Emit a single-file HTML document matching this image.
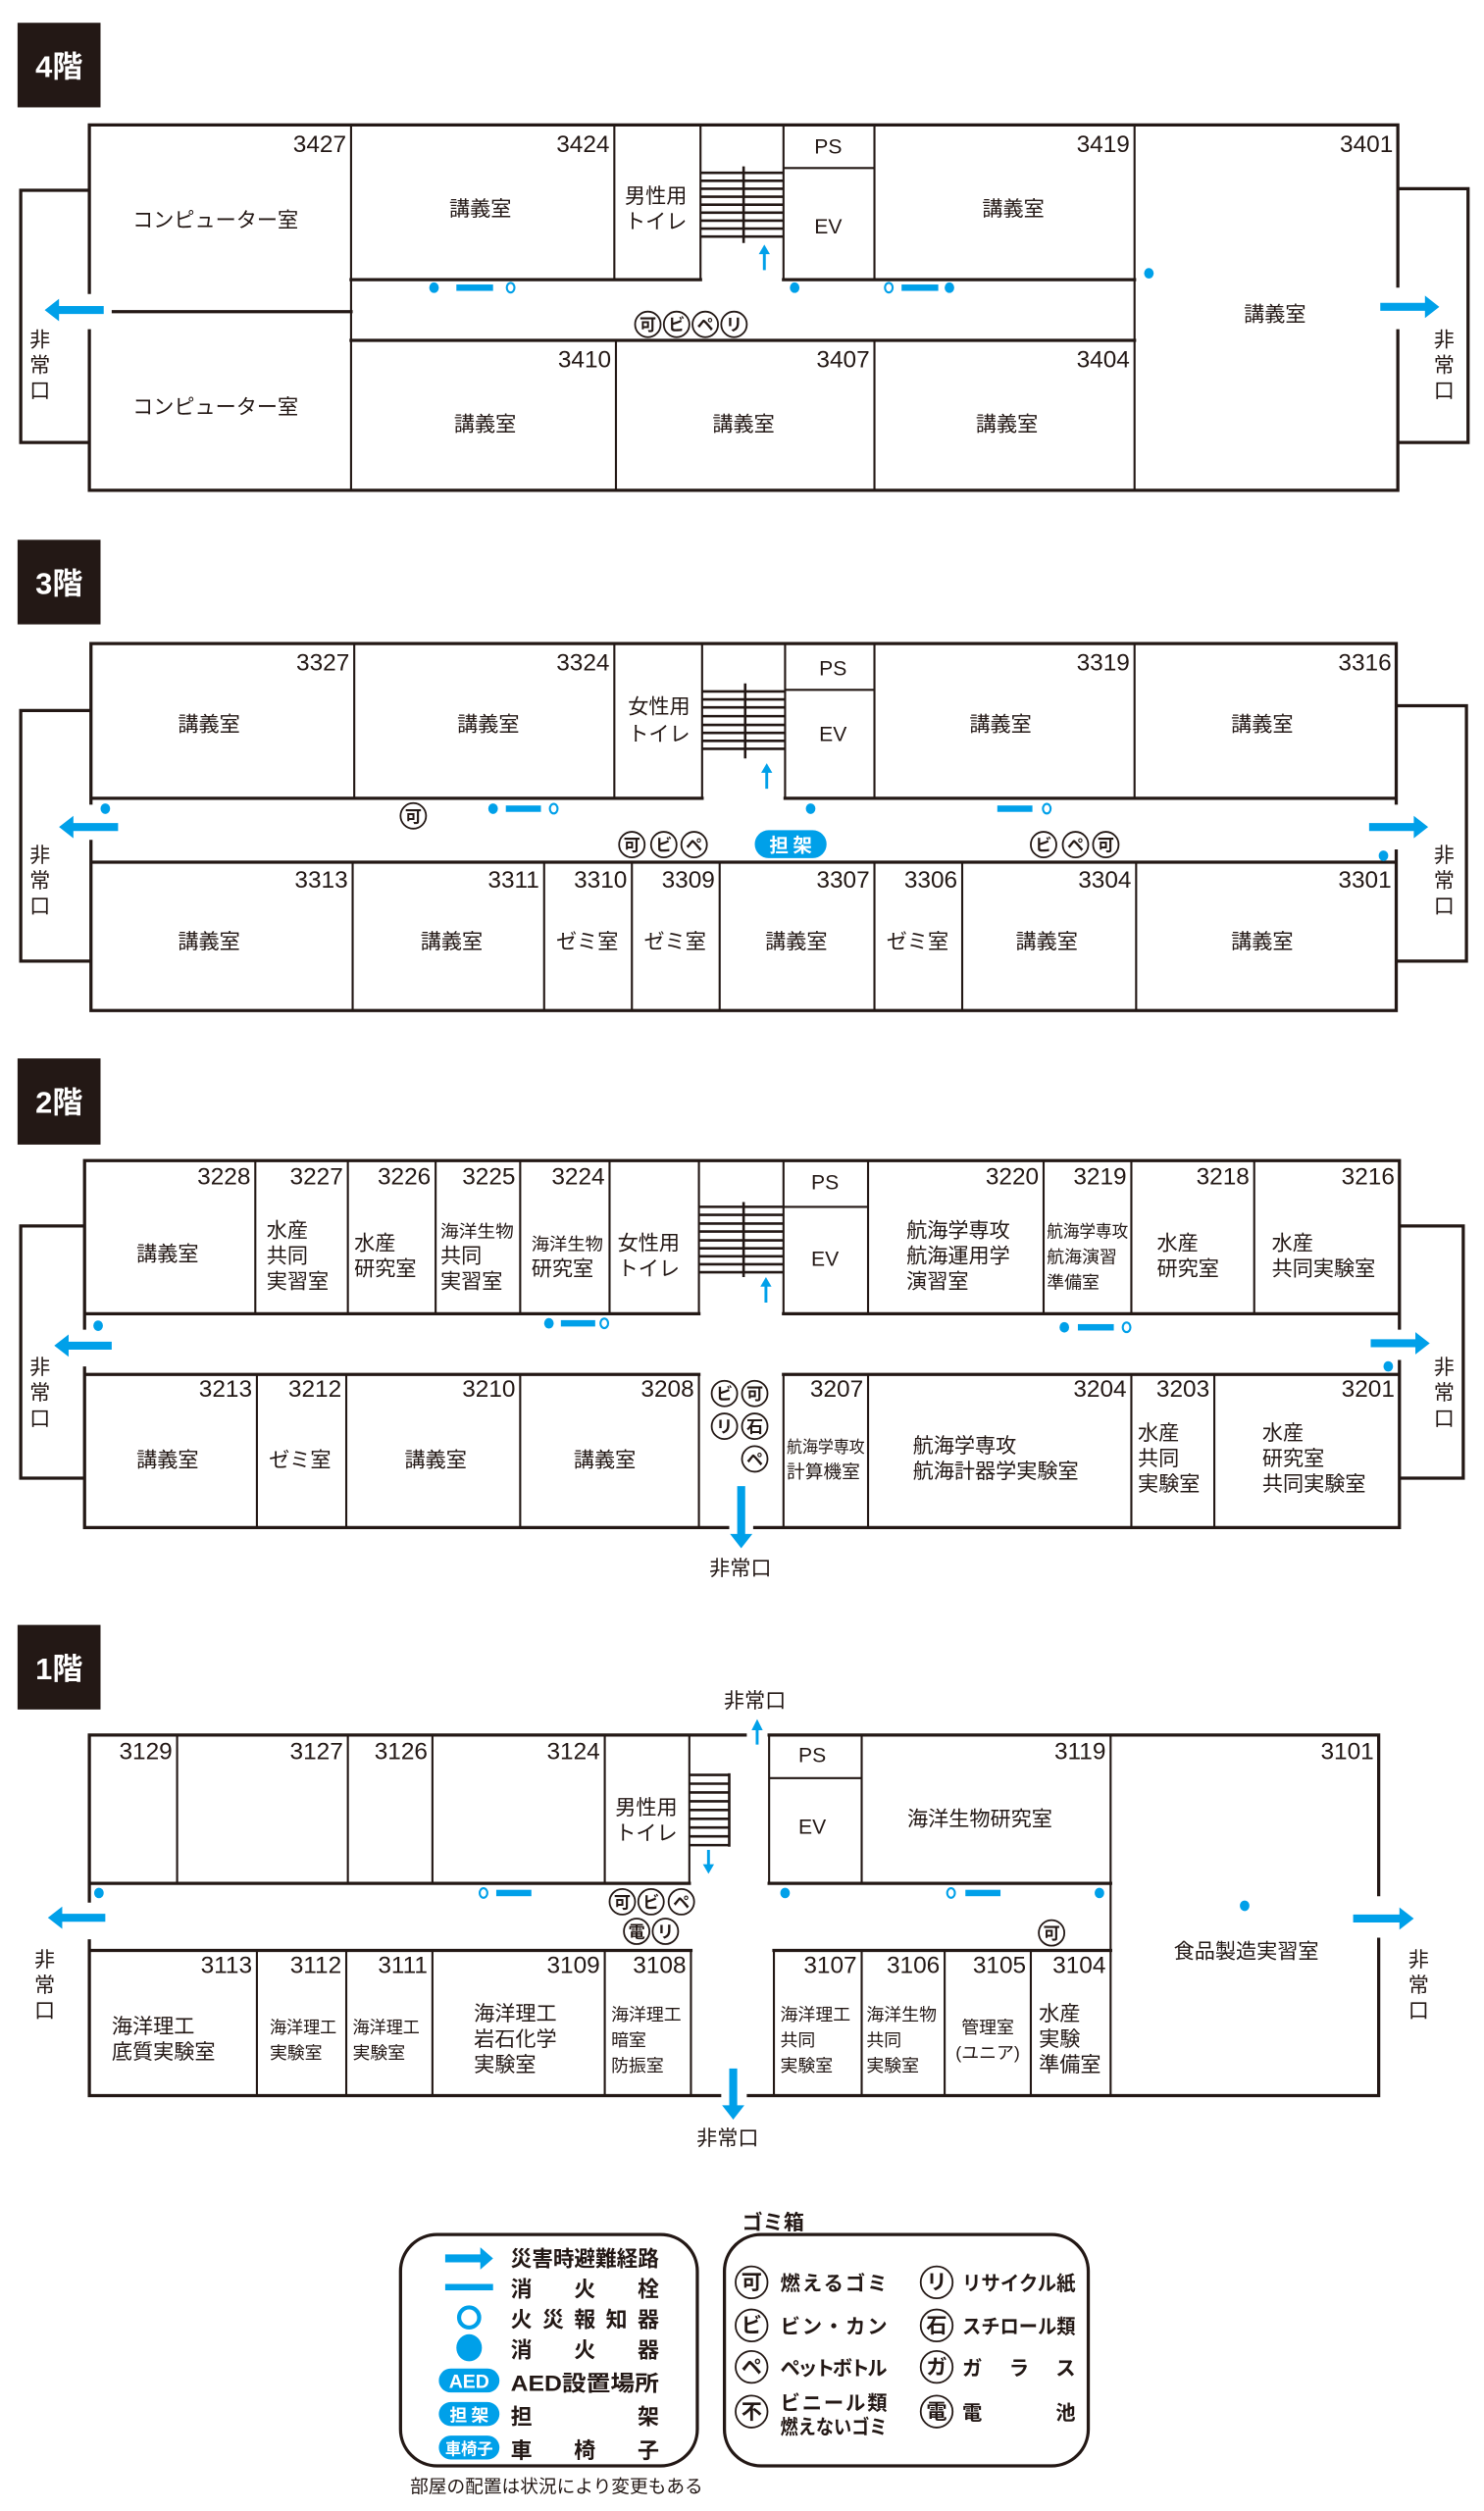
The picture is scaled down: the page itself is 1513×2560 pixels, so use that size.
<!DOCTYPE html>
<html><head><meta charset="utf-8"><style>
html,body{margin:0;padding:0;background:#fff}
svg{display:block}
.w{stroke:#231815;stroke-width:2;fill:none;stroke-linecap:square}
.i{stroke:#231815;stroke-width:1.3;fill:none}
.n{font-family:"Liberation Sans",sans-serif;font-size:15px;fill:#231815;text-anchor:end}
.r{font-family:"Liberation Sans","Noto Sans CJK JP",sans-serif;font-size:13px;fill:#231815;text-anchor:middle}
.l{font-family:"Liberation Sans","Noto Sans CJK JP",sans-serif;font-size:13px;fill:#231815}
.s{font-size:11px}
.b{fill:#00a0e9}
.rg{fill:none;stroke:#00a0e9;stroke-width:1.3}
.c{fill:#fff;stroke:#231815;stroke-width:1.1}
.ct{font-family:"Noto Sans CJK JP",sans-serif;font-size:10.5px;font-weight:bold;fill:#231815;text-anchor:middle}
.lab{font-family:"Liberation Sans","Noto Sans CJK JP",sans-serif;font-size:19px;font-weight:bold;fill:#fff;text-anchor:middle}
.lg{font-family:"Liberation Sans","Noto Sans CJK JP",sans-serif;font-size:13.5px;font-weight:bold;fill:#231815}
.st{stroke:#231815;stroke-width:1.6}
.ba{stroke:#00a0e9;stroke-width:1.8;fill:none}
</style></head><body>
<svg width="1513" height="2560" viewBox="0 0 930 1573" xmlns="http://www.w3.org/2000/svg">

<!-- ===== 4F ===== -->
<rect x="11" y="14" width="52" height="53" fill="#231815"/><text class="lab" x="37" y="48">4階</text>
<path class="w" d="M56 78H876M56 307H876M56 78V183M56 207V307M876 78V179M876 207V307M56 119H13V277H56M876 118H920V277H876M71 195H220M220 175H439M491 175H711M220 213H711"/>
<path class="i" d="M220 78V307M385 78V175M439 78V175M491 78V175M548 78V175M711 78V307M491 105H548M386 213V307M548 213V307"/>
<g class="st"><path d="M439 108H491M439 113H491M439 118H491M439 123H491M439 128H491M439 133H491M439 138H491M439 143H491M439 148H491M466 104V152"/></g>
<path class="ba" d="M479 169V157"/><path class="b" d="M475.5 159L479 153L482.5 159Z"/>
<text class="n" x="217" y="95">3427</text><text class="n" x="382" y="95">3424</text><text class="n" x="708" y="95">3419</text><text class="n" x="873" y="95">3401</text>
<text class="n" x="383" y="230">3410</text><text class="n" x="545" y="230">3407</text><text class="n" x="708" y="230">3404</text>
<text class="r" x="135" y="142">コンピューター室</text><text class="r" x="135" y="259">コンピューター室</text>
<text class="r" x="301" y="135">講義室</text><text class="r" x="635" y="135">講義室</text><text class="r" x="799" y="201">講義室</text>
<text class="r" x="304" y="270">講義室</text><text class="r" x="466" y="270">講義室</text><text class="r" x="631" y="270">講義室</text>
<text class="r" x="411" y="127">男性用</text><text class="r" x="411" y="143">トイレ</text>
<text class="r" x="519" y="96">PS</text><text class="r" x="519" y="146">EV</text>
<ellipse class="b" cx="272" cy="180" rx="3" ry="3.3"/><rect class="b" x="286" y="178" width="23" height="4"/><ellipse class="rg" cx="320" cy="180" rx="2.4" ry="3"/>
<ellipse class="b" cx="498" cy="180" rx="3" ry="3.3"/><ellipse class="rg" cx="557" cy="180" rx="2.4" ry="3"/><rect class="b" x="565" y="178" width="23" height="4"/><ellipse class="b" cx="595" cy="180" rx="3" ry="3.3"/>
<ellipse class="b" cx="720" cy="171" rx="3" ry="3.3"/>
<g><circle class="c" cx="406" cy="203" r="8"/><text class="ct" x="406" y="207">可</text><circle class="c" cx="424" cy="203" r="8"/><text class="ct" x="424" y="207">ビ</text><circle class="c" cx="442" cy="203" r="8"/><text class="ct" x="442" y="207">ペ</text><circle class="c" cx="460" cy="203" r="8"/><text class="ct" x="460" y="207">リ</text></g>
<path class="b" d="M65 191.5H37V187L28 194L37 201V196.5H65Z"/>
<path class="b" d="M865 189.5H893V185L902 192L893 199V194.5H865Z"/>
<text class="r" x="25" y="217">非</text><text class="r" x="25" y="233">常</text><text class="r" x="25" y="249">口</text>
<text class="r" x="905" y="217">非</text><text class="r" x="905" y="233">常</text><text class="r" x="905" y="249">口</text>

<!-- ===== 3F ===== -->
<rect x="11" y="338" width="52" height="53" fill="#231815"/><text class="lab" x="37" y="372">3階</text>
<path class="w" d="M57 403H875M57 633H875M57 403V503M57 527V633M57 445H13V602H57M875 403V503M875 533V633M875 442H919V602H875M57 500H440M492 500H875M57 540H875"/>
<path class="i" d="M222 403V500M385 403V500M440 403V500M492 403V500M548 403V500M711 403V500M492 432H548M221 540V633M341 540V633M396 540V633M451 540V633M548 540V633M603 540V633M712 540V633"/>
<g class="st"><path d="M440 433H492M440 438H492M440 443H492M440 448.5H492M440 454H492M440 459H492M440 464H492M440 469H492M467 428V475"/></g>
<path class="ba" d="M480.5 494V482"/><path class="b" d="M477 484L480.5 478L484 484Z"/>
<text class="n" x="219" y="420">3327</text><text class="n" x="382" y="420">3324</text><text class="n" x="708" y="420">3319</text><text class="n" x="872" y="420">3316</text>
<text class="n" x="218" y="556">3313</text><text class="n" x="338" y="556">3311</text><text class="n" x="393" y="556">3310</text><text class="n" x="448" y="556">3309</text><text class="n" x="545" y="556">3307</text><text class="n" x="600" y="556">3306</text><text class="n" x="709" y="556">3304</text><text class="n" x="872" y="556">3301</text>
<text class="r" x="131" y="458">講義室</text><text class="r" x="306" y="458">講義室</text><text class="r" x="627" y="458">講義室</text><text class="r" x="791" y="458">講義室</text>
<text class="r" x="413" y="447">女性用</text><text class="r" x="413" y="464">トイレ</text><text class="r" x="522" y="423">PS</text><text class="r" x="522" y="464">EV</text>
<text class="r" x="131" y="594">講義室</text><text class="r" x="283" y="594">講義室</text><text class="r" x="368" y="594">ゼミ室</text><text class="r" x="423" y="594">ゼミ室</text><text class="r" x="499" y="594">講義室</text><text class="r" x="575" y="594">ゼミ室</text><text class="r" x="656" y="594">講義室</text><text class="r" x="791" y="594">講義室</text>
<ellipse class="b" cx="66" cy="506.5" rx="3" ry="3.3"/>
<circle class="c" cx="259" cy="511" r="8"/><text class="ct" x="259" y="515">可</text>
<ellipse class="b" cx="309" cy="506.5" rx="3" ry="3.3"/><rect class="b" x="317" y="504.5" width="22" height="4"/><ellipse class="rg" cx="347" cy="506.5" rx="2.4" ry="3"/>
<ellipse class="b" cx="508" cy="506.5" rx="3" ry="3.3"/><rect class="b" x="625" y="504.5" width="22" height="4"/><ellipse class="rg" cx="656" cy="506.5" rx="2.4" ry="3"/>
<circle class="c" cx="396" cy="529" r="8"/><text class="ct" x="396" y="533">可</text><circle class="c" cx="416" cy="529" r="8"/><text class="ct" x="416" y="533">ビ</text><circle class="c" cx="435" cy="529" r="8"/><text class="ct" x="435" y="533">ペ</text>
<rect class="b" x="473" y="520" width="45" height="17.5" rx="8.7"/><text x="495.5" y="533.5" text-anchor="middle" font-family="Noto Sans CJK JP,sans-serif" font-size="12" font-weight="bold" fill="#fff">担 架</text>
<circle class="c" cx="654" cy="529" r="8"/><text class="ct" x="654" y="533">ビ</text><circle class="c" cx="674" cy="529" r="8"/><text class="ct" x="674" y="533">ペ</text><circle class="c" cx="693" cy="529" r="8"/><text class="ct" x="693" y="533">可</text>
<ellipse class="b" cx="867" cy="536" rx="3" ry="3.3"/>
<path class="b" d="M74 515.5H46V511L37 518L46 525V520.5H74Z"/>
<path class="b" d="M858 515.5H886V511L895 518L886 525V520.5H858Z"/>
<text class="r" x="25" y="540">非</text><text class="r" x="25" y="556">常</text><text class="r" x="25" y="572">口</text>
<text class="r" x="905" y="540">非</text><text class="r" x="905" y="556">常</text><text class="r" x="905" y="572">口</text>

<!-- ===== 2F ===== -->
<rect x="11" y="663" width="52" height="54" fill="#231815"/><text class="lab" x="37" y="697">2階</text>
<path class="w" d="M53 727H877M53 957H456M473 957H877M53 727V832M53 857V957M53 768H13V926H53M877 727V832M877 853V957M877 768H917V926H877M53 823H438M491 823H877M53 861H438M491 861H877"/>
<path class="i" d="M160 727V823M218 727V823M273 727V823M326 727V823M382 727V823M438 727V823M491 727V823M544 727V823M654 727V823M709 727V823M786 727V823M491 756H544M161 861V957M217 861V957M326 861V957M438 861V957M491 861V957M544 861V957M709 861V957M761 861V957"/>
<g class="st"><path d="M438 756H491M438 761H491M438 766.5H491M438 771.5H491M438 777H491M438 782H491M438 787H491M438 792H491M438 797H491M466 753V800"/></g>
<path class="ba" d="M480 816V804"/><path class="b" d="M476.5 806L480 800L483.5 806Z"/>
<text class="n" x="157" y="742">3228</text><text class="n" x="215" y="742">3227</text><text class="n" x="270" y="742">3226</text><text class="n" x="323" y="742">3225</text><text class="n" x="379" y="742">3224</text><text class="n" x="651" y="742">3220</text><text class="n" x="706" y="742">3219</text><text class="n" x="783" y="742">3218</text><text class="n" x="874" y="742">3216</text>
<text class="n" x="158" y="875">3213</text><text class="n" x="214" y="875">3212</text><text class="n" x="323" y="875">3210</text><text class="n" x="435" y="875">3208</text><text class="n" x="541" y="875">3207</text><text class="n" x="706" y="875">3204</text><text class="n" x="758" y="875">3203</text><text class="n" x="874" y="875">3201</text>
<text class="r" x="517" y="745">PS</text><text class="r" x="517" y="793">EV</text>
<text class="r" x="105" y="790">講義室</text>
<text class="l" x="167" y="775">水産</text><text class="l" x="167" y="791">共同</text><text class="l" x="167" y="807">実習室</text>
<text class="l" x="222" y="783">水産</text><text class="l" x="222" y="799">研究室</text>
<text class="l" x="276" y="775" style="font-size:11px" textLength="46" lengthAdjust="spacingAndGlyphs">海洋生物</text><text class="l" x="276" y="791">共同</text><text class="l" x="276" y="807">実習室</text>
<text class="l" x="333" y="783" style="font-size:11px" textLength="45" lengthAdjust="spacingAndGlyphs">海洋生物</text><text class="l" x="333" y="799">研究室</text>
<text class="l" x="387" y="783">女性用</text><text class="l" x="387" y="799">トイレ</text>
<text class="l" x="568" y="775">航海学専攻</text><text class="l" x="568" y="791">航海運用学</text><text class="l" x="568" y="807">演習室</text>
<text class="l" x="656" y="775" style="font-size:11px" textLength="51" lengthAdjust="spacingAndGlyphs">航海学専攻</text><text class="l s" x="656" y="791">航海演習</text><text class="l s" x="656" y="807">準備室</text>
<text class="l" x="725" y="783">水産</text><text class="l" x="725" y="799">研究室</text>
<text class="l" x="797" y="783">水産</text><text class="l" x="797" y="799">共同実験室</text>
<text class="r" x="105" y="919">講義室</text><text class="r" x="188" y="919">ゼミ室</text><text class="r" x="273" y="919">講義室</text><text class="r" x="379" y="919">講義室</text>
<text class="l" x="493" y="910" style="font-size:10.5px" textLength="49" lengthAdjust="spacingAndGlyphs">航海学専攻</text><text class="l" x="493" y="926" style="font-size:11.5px">計算機室</text>
<text class="l" x="572" y="910">航海学専攻</text><text class="l" x="572" y="926">航海計器学実験室</text>
<text class="l" x="713" y="902">水産</text><text class="l" x="713" y="918">共同</text><text class="l" x="713" y="934">実験室</text>
<text class="l" x="791" y="902">水産</text><text class="l" x="791" y="918">研究室</text><text class="l" x="791" y="934">共同実験室</text>
<ellipse class="b" cx="61.5" cy="830.5" rx="3" ry="3.3"/>
<ellipse class="b" cx="344" cy="829" rx="3" ry="3.3"/><rect class="b" x="351.5" y="827" width="21.5" height="4"/><ellipse class="rg" cx="378.7" cy="829" rx="2.4" ry="3"/>
<ellipse class="b" cx="667" cy="831.5" rx="3" ry="3.3"/><rect class="b" x="675.5" y="829.5" width="22.5" height="4"/><ellipse class="rg" cx="706" cy="831.5" rx="2.4" ry="3"/>
<ellipse class="b" cx="870" cy="856" rx="3" ry="3.3"/>
<circle class="c" cx="454" cy="873" r="8"/><text class="ct" x="454" y="877">ビ</text><circle class="c" cx="473" cy="873" r="8"/><text class="ct" x="473" y="877">可</text>
<circle class="c" cx="454" cy="893.5" r="8"/><text class="ct" x="454" y="897.5">リ</text><circle class="c" cx="473" cy="893.5" r="8"/><text class="ct" x="473" y="897.5">石</text>
<circle class="c" cx="473" cy="914" r="8"/><text class="ct" x="473" y="918">ペ</text>
<path class="b" d="M70 840.5H43V836L34 843L43 850V845.5H70Z"/>
<path class="b" d="M859 839H887V834.5L896 841.5L887 848.5V844H859Z"/>
<path class="b" d="M462 931H467V961H471.5L464.5 970L457.5 961H462Z"/>
<text class="r" x="464" y="987">非常口</text>
<text class="r" x="25" y="861">非</text><text class="r" x="25" y="877">常</text><text class="r" x="25" y="893">口</text>
<text class="r" x="905" y="861">非</text><text class="r" x="905" y="877">常</text><text class="r" x="905" y="893">口</text>

<!-- ===== 1F ===== -->
<rect x="11" y="1018" width="52" height="53" fill="#231815"/><text class="lab" x="37" y="1052">1階</text>
<path class="w" d="M56 1087H467M482 1087H864M56 1313H451M469 1313H864M56 1087V1191M56 1216V1313M864 1087V1187M864 1215V1313M56 1180H432M482 1180H696M56 1222H433M485 1222H696"/>
<path class="i" d="M111 1087V1180M218 1087V1180M271 1087V1180M379 1087V1180M432 1087V1180M482 1087V1180M540 1087V1180M482 1114H540M696 1087V1313M161 1222V1313M217 1222V1313M271 1222V1313M379 1222V1313M433 1222V1313M485 1222V1313M540 1222V1313M592 1222V1313M646 1222V1313"/>
<g class="st"><path d="M432 1112H457M432 1117.5H457M432 1123H457M432 1128.5H457M432 1134H457M432 1139.5H457M432 1145H457M432 1150.5H457M432 1156H457M457 1111V1157"/></g>
<path class="ba" d="M444 1159V1170"/><path class="b" d="M440.5 1168L444 1174L447.5 1168Z"/>
<path class="ba" d="M474.5 1093V1082"/><path class="b" d="M471 1084L474.5 1077L478 1084Z"/>
<text class="r" x="473" y="1070">非常口</text>
<text class="n" x="108" y="1102">3129</text><text class="n" x="215" y="1102">3127</text><text class="n" x="268" y="1102">3126</text><text class="n" x="376" y="1102">3124</text><text class="n" x="693" y="1102">3119</text><text class="n" x="861" y="1102">3101</text>
<text class="n" x="158" y="1236">3113</text><text class="n" x="214" y="1236">3112</text><text class="n" x="268" y="1236">3111</text><text class="n" x="376" y="1236">3109</text><text class="n" x="430" y="1236">3108</text><text class="n" x="537" y="1236">3107</text><text class="n" x="589" y="1236">3106</text><text class="n" x="643" y="1236">3105</text><text class="n" x="693" y="1236">3104</text>
<text class="r" x="509" y="1104">PS</text><text class="r" x="509" y="1149">EV</text>
<text class="r" x="405" y="1137">男性用</text><text class="r" x="405" y="1153">トイレ</text>
<text class="r" x="614" y="1144">海洋生物研究室</text><text class="r" x="781" y="1227">食品製造実習室</text>
<text class="l" x="70" y="1274">海洋理工</text><text class="l" x="70" y="1290">底質実験室</text>
<text class="l s" x="169" y="1274" textLength="42" lengthAdjust="spacingAndGlyphs">海洋理工</text><text class="l s" x="169" y="1290">実験室</text>
<text class="l s" x="221" y="1274" textLength="42" lengthAdjust="spacingAndGlyphs">海洋理工</text><text class="l s" x="221" y="1290">実験室</text>
<text class="l" x="297" y="1266">海洋理工</text><text class="l" x="297" y="1282">岩石化学</text><text class="l" x="297" y="1298">実験室</text>
<text class="l s" x="383" y="1266" textLength="44" lengthAdjust="spacingAndGlyphs">海洋理工</text><text class="l s" x="383" y="1282">暗室</text><text class="l s" x="383" y="1298">防振室</text>
<text class="l s" x="489" y="1266" textLength="44" lengthAdjust="spacingAndGlyphs">海洋理工</text><text class="l s" x="489" y="1282">共同</text><text class="l s" x="489" y="1298">実験室</text>
<text class="l s" x="543" y="1266" textLength="44" lengthAdjust="spacingAndGlyphs">海洋生物</text><text class="l s" x="543" y="1282">共同</text><text class="l s" x="543" y="1298">実験室</text>
<text class="r s" x="619" y="1274">管理室</text><text class="r s" x="619" y="1290">(ユニア)</text>
<text class="l" x="651" y="1266">水産</text><text class="l" x="651" y="1282">実験</text><text class="l" x="651" y="1298">準備室</text>
<ellipse class="b" cx="62" cy="1186" rx="3" ry="3.3"/>
<ellipse class="rg" cx="303" cy="1186" rx="2.4" ry="3"/><rect class="b" x="311" y="1184" width="22" height="4"/>
<ellipse class="b" cx="492" cy="1186" rx="3" ry="3.3"/><ellipse class="rg" cx="596" cy="1186" rx="2.4" ry="3"/><rect class="b" x="605" y="1184" width="22" height="4"/><ellipse class="b" cx="689" cy="1186" rx="3" ry="3.3"/>
<ellipse class="b" cx="780" cy="1194" rx="3" ry="3.3"/>
<circle class="c" cx="390" cy="1191.5" r="8"/><text class="ct" x="390" y="1195.5">可</text><circle class="c" cx="408" cy="1191.5" r="8"/><text class="ct" x="408" y="1195.5">ビ</text><circle class="c" cx="427" cy="1191.5" r="8"/><text class="ct" x="427" y="1195.5">ペ</text>
<circle class="c" cx="399" cy="1210" r="8"/><text class="ct" x="399" y="1214">電</text><circle class="c" cx="417" cy="1210" r="8"/><text class="ct" x="417" y="1214">リ</text>
<circle class="c" cx="659" cy="1211" r="8"/><text class="ct" x="659" y="1215">可</text>
<path class="b" d="M66 1199H39V1194.5L30 1201.5L39 1208.5V1204H66Z"/>
<path class="b" d="M848 1199.5H877V1195L886 1202L877 1209V1204.5H848Z"/>
<path class="b" d="M457 1296H462V1319H466.5L459.5 1328L452.5 1319H457Z"/>
<text class="r" x="456" y="1344">非常口</text>
<text class="r" x="28" y="1232">非</text><text class="r" x="28" y="1248">常</text><text class="r" x="28" y="1264">口</text>
<text class="r" x="889" y="1232">非</text><text class="r" x="889" y="1248">常</text><text class="r" x="889" y="1264">口</text>

<!-- ===== Legend ===== -->
<rect x="251" y="1400" width="186" height="145" rx="23" fill="none" stroke="#231815" stroke-width="2"/>
<path class="b" d="M279 1412.5H301V1408L309 1415L301 1422V1417.5H279Z"/>
<text class="lg" x="320" y="1420" textLength="93" lengthAdjust="spacingAndGlyphs">災害時避難経路</text>
<rect class="b" x="279" y="1431" width="30" height="4"/>
<text class="lg" x="320" y="1439" textLength="93" lengthAdjust="spacing">消火栓</text>
<circle cx="294" cy="1452" r="6.3" fill="none" stroke="#00a0e9" stroke-width="2.6"/>
<text class="lg" x="320" y="1458" textLength="93" lengthAdjust="spacing">火災報知器</text>
<ellipse class="b" cx="294" cy="1471" rx="8" ry="8.5"/>
<text class="lg" x="320" y="1477" textLength="93" lengthAdjust="spacing">消火器</text>
<rect class="b" x="275" y="1484" width="38" height="15" rx="7.5"/><text x="294" y="1496" text-anchor="middle" font-family="Liberation Sans,sans-serif" font-size="12" font-weight="bold" fill="#fff">AED</text>
<text class="lg" x="320" y="1498" textLength="93" lengthAdjust="spacingAndGlyphs">AED設置場所</text>
<rect class="b" x="275" y="1505" width="38" height="15" rx="7.5"/><text x="294" y="1517" text-anchor="middle" font-family="Noto Sans CJK JP,sans-serif" font-size="11" font-weight="bold" fill="#fff">担 架</text>
<text class="lg" x="320" y="1519" textLength="93" lengthAdjust="spacing">担架</text>
<rect class="b" x="275" y="1526" width="38" height="15" rx="7.5"/><text x="294" y="1538" text-anchor="middle" font-family="Noto Sans CJK JP,sans-serif" font-size="10" font-weight="bold" fill="#fff">車椅子</text>
<text class="lg" x="320" y="1540" textLength="93" lengthAdjust="spacing">車椅子</text>
<text class="l" x="257" y="1562" style="font-size:11.5px">部屋の配置は状況により変更もある</text>

<text class="l" x="465" y="1397" style="font-size:13px;font-weight:bold">ゴミ箱</text>
<rect x="454" y="1400" width="228" height="145" rx="23" fill="none" stroke="#231815" stroke-width="2"/>
<g style="font-family:'Noto Sans CJK JP',sans-serif;font-weight:bold;fill:#231815">
<circle class="c" cx="471" cy="1430" r="10"/><text class="ct" x="471" y="1434.5" style="font-size:13px">可</text>
<text class="lg" x="489" y="1435" textLength="67" lengthAdjust="spacing" style="font-size:12.5px">燃えるゴミ</text>
<circle class="c" cx="471" cy="1457" r="10"/><text class="ct" x="471" y="1461.5" style="font-size:13px">ビ</text>
<text class="lg" x="489" y="1462" textLength="67" lengthAdjust="spacing" style="font-size:12.5px">ビン・カン</text>
<circle class="c" cx="471" cy="1483" r="10"/><text class="ct" x="471" y="1487.5" style="font-size:13px">ペ</text>
<text class="lg" x="489" y="1488" textLength="67" lengthAdjust="spacing" style="font-size:12.5px">ペットボトル</text>
<circle class="c" cx="471" cy="1511" r="10"/><text class="ct" x="471" y="1515.5" style="font-size:13px">不</text>
<text class="lg" x="489" y="1510" textLength="67" lengthAdjust="spacing" style="font-size:12.5px">ビニール類</text>
<text class="lg" x="489" y="1525" textLength="67" lengthAdjust="spacingAndGlyphs" style="font-size:12.5px">燃えないゴミ</text>
<circle class="c" cx="587" cy="1430" r="10"/><text class="ct" x="587" y="1434.5" style="font-size:13px">リ</text>
<text class="lg" x="603" y="1435" textLength="71" lengthAdjust="spacingAndGlyphs" style="font-size:12.5px">リサイクル紙</text>
<circle class="c" cx="587" cy="1457" r="10"/><text class="ct" x="587" y="1461.5" style="font-size:13px">石</text>
<text class="lg" x="603" y="1462" textLength="71" lengthAdjust="spacingAndGlyphs" style="font-size:12.5px">スチロール類</text>
<circle class="c" cx="587" cy="1483" r="10"/><text class="ct" x="587" y="1487.5" style="font-size:13px">ガ</text>
<text class="lg" x="603" y="1488" textLength="71" lengthAdjust="spacing" style="font-size:12.5px">ガラス</text>
<circle class="c" cx="587" cy="1511" r="10"/><text class="ct" x="587" y="1515.5" style="font-size:13px">電</text>
<text class="lg" x="603" y="1516" textLength="71" lengthAdjust="spacing" style="font-size:12.5px">電池</text>
</g>
</svg>
</body></html>
